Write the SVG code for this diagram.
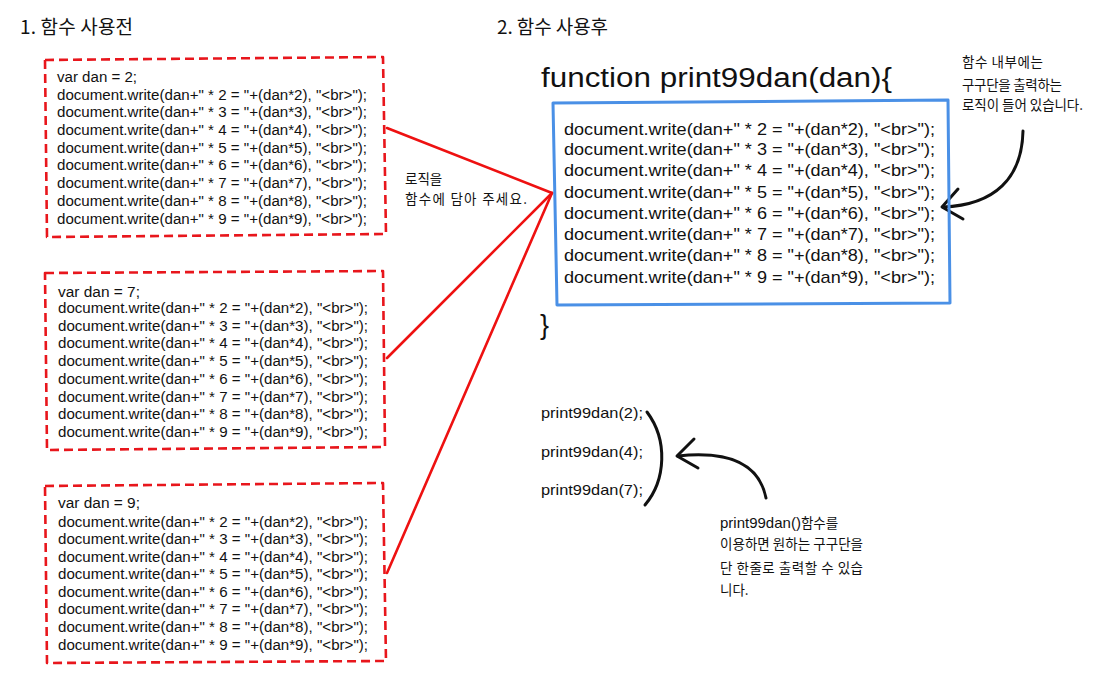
<svg xmlns="http://www.w3.org/2000/svg" width="1106" height="688" viewBox="0 0 1106 688">
<style>
.ko{font-family:"Noto Sans CJK KR","Noto Sans",sans-serif;fill:#111}
.title{font-size:19px}
.note{font-size:13.5px}
.lat{font-family:"Liberation Sans","DejaVu Sans",sans-serif}
.code{font-family:"Liberation Sans","DejaVu Sans",sans-serif;fill:#111;font-size:14px}
.bcode{font-family:"Liberation Sans","DejaVu Sans",sans-serif;fill:#111;font-size:17px}
.call{font-family:"Liberation Sans","DejaVu Sans",sans-serif;fill:#111;font-size:15px}
.fn{font-family:"Liberation Sans","DejaVu Sans",sans-serif;fill:#111;font-size:27px}
.dash{fill:none;stroke:#e8161c;stroke-width:2.6;stroke-dasharray:9 5;stroke-linejoin:round}
.blue{fill:none;stroke:#4a90e6;stroke-width:3;stroke-linejoin:round}
.red{fill:none;stroke:#ee1111;stroke-width:2.6;stroke-linecap:round}
.ink{fill:none;stroke:#111;stroke-width:3;stroke-linecap:round;stroke-linejoin:round}
</style>
<rect width="1106" height="688" fill="#fff"/>

<g id="title-before"><text class="ko title" x="20" y="34" textLength="113">1. 함수 사용전</text></g>
<g id="title-after"><text class="ko title" x="497" y="34" textLength="111">2. 함수 사용후</text></g>

<g id="box-dan2">
<path class="dash" d="M45,60 L383,57 L386,234 L47,237 Z"/>
<text class="code" x="57" y="81.5" textLength="80" lengthAdjust="spacingAndGlyphs">var dan = 2;</text>
<text class="code" x="57" y="99.5" textLength="310" lengthAdjust="spacingAndGlyphs">document.write(dan+" * 2 = "+(dan*2), "&lt;br&gt;");</text>
<text class="code" x="57" y="117" textLength="310" lengthAdjust="spacingAndGlyphs">document.write(dan+" * 3 = "+(dan*3), "&lt;br&gt;");</text>
<text class="code" x="57" y="134.8" textLength="310" lengthAdjust="spacingAndGlyphs">document.write(dan+" * 4 = "+(dan*4), "&lt;br&gt;");</text>
<text class="code" x="57" y="152.5" textLength="310" lengthAdjust="spacingAndGlyphs">document.write(dan+" * 5 = "+(dan*5), "&lt;br&gt;");</text>
<text class="code" x="57" y="170.3" textLength="310" lengthAdjust="spacingAndGlyphs">document.write(dan+" * 6 = "+(dan*6), "&lt;br&gt;");</text>
<text class="code" x="57" y="188" textLength="310" lengthAdjust="spacingAndGlyphs">document.write(dan+" * 7 = "+(dan*7), "&lt;br&gt;");</text>
<text class="code" x="57" y="205.8" textLength="310" lengthAdjust="spacingAndGlyphs">document.write(dan+" * 8 = "+(dan*8), "&lt;br&gt;");</text>
<text class="code" x="57" y="223.5" textLength="310" lengthAdjust="spacingAndGlyphs">document.write(dan+" * 9 = "+(dan*9), "&lt;br&gt;");</text>
</g>

<g id="box-dan7">
<path class="dash" d="M45,273 L383,271 L385,447 L47,450 Z"/>
<text class="code" x="58" y="296.5" textLength="82" lengthAdjust="spacingAndGlyphs">var dan = 7;</text>
<text class="code" x="58" y="312.5" textLength="310" lengthAdjust="spacingAndGlyphs">document.write(dan+" * 2 = "+(dan*2), "&lt;br&gt;");</text>
<text class="code" x="58" y="330.5" textLength="310" lengthAdjust="spacingAndGlyphs">document.write(dan+" * 3 = "+(dan*3), "&lt;br&gt;");</text>
<text class="code" x="58" y="348" textLength="310" lengthAdjust="spacingAndGlyphs">document.write(dan+" * 4 = "+(dan*4), "&lt;br&gt;");</text>
<text class="code" x="58" y="365.5" textLength="310" lengthAdjust="spacingAndGlyphs">document.write(dan+" * 5 = "+(dan*5), "&lt;br&gt;");</text>
<text class="code" x="58" y="383.5" textLength="310" lengthAdjust="spacingAndGlyphs">document.write(dan+" * 6 = "+(dan*6), "&lt;br&gt;");</text>
<text class="code" x="58" y="401.5" textLength="310" lengthAdjust="spacingAndGlyphs">document.write(dan+" * 7 = "+(dan*7), "&lt;br&gt;");</text>
<text class="code" x="58" y="419" textLength="310" lengthAdjust="spacingAndGlyphs">document.write(dan+" * 8 = "+(dan*8), "&lt;br&gt;");</text>
<text class="code" x="58" y="436.5" textLength="310" lengthAdjust="spacingAndGlyphs">document.write(dan+" * 9 = "+(dan*9), "&lt;br&gt;");</text>
</g>

<g id="box-dan9">
<path class="dash" d="M45,486 L383,483 L386,661 L47,663 Z"/>
<text class="code" x="58" y="507.5" textLength="82" lengthAdjust="spacingAndGlyphs">var dan = 9;</text>
<text class="code" x="58" y="526.5" textLength="310" lengthAdjust="spacingAndGlyphs">document.write(dan+" * 2 = "+(dan*2), "&lt;br&gt;");</text>
<text class="code" x="58" y="543.5" textLength="310" lengthAdjust="spacingAndGlyphs">document.write(dan+" * 3 = "+(dan*3), "&lt;br&gt;");</text>
<text class="code" x="58" y="561.5" textLength="310" lengthAdjust="spacingAndGlyphs">document.write(dan+" * 4 = "+(dan*4), "&lt;br&gt;");</text>
<text class="code" x="58" y="578.5" textLength="310" lengthAdjust="spacingAndGlyphs">document.write(dan+" * 5 = "+(dan*5), "&lt;br&gt;");</text>
<text class="code" x="58" y="596.5" textLength="310" lengthAdjust="spacingAndGlyphs">document.write(dan+" * 6 = "+(dan*6), "&lt;br&gt;");</text>
<text class="code" x="58" y="613.5" textLength="310" lengthAdjust="spacingAndGlyphs">document.write(dan+" * 7 = "+(dan*7), "&lt;br&gt;");</text>
<text class="code" x="58" y="631.5" textLength="310" lengthAdjust="spacingAndGlyphs">document.write(dan+" * 8 = "+(dan*8), "&lt;br&gt;");</text>
<text class="code" x="58" y="649.5" textLength="310" lengthAdjust="spacingAndGlyphs">document.write(dan+" * 9 = "+(dan*9), "&lt;br&gt;");</text>
</g>

<g id="connectors">
<polyline class="red" points="387,128 552,193"/>
<polyline class="red" points="387,358 552,193"/>
<polyline class="red" points="387,573 552,193"/>
<path class="ink" d="M1023,131 C1022,178 995,205 943,207"/>
<polyline class="ink" points="958,189 942,207 963,219"/>
<path class="ink" d="M647,412 C668,440 666,480 645,505"/>
<path class="ink" d="M766,498 C760,468 735,450 678,456"/>
<polyline class="ink" points="694,439 677,456 698,468"/>
</g>

<g id="note-logic">
<text class="ko note" x="405" y="184">로직을</text>
<text class="ko note" x="405" y="204" textLength="122">함수에 담아 주세요.</text>
</g>

<g id="function-box">
<text class="fn" x="541" y="87" textLength="351" lengthAdjust="spacingAndGlyphs">function print99dan(dan){</text>
<path class="blue" d="M553,103 L948,100 L950,303 L557,305 Z"/>
<text class="bcode" x="564" y="134.5" textLength="371" lengthAdjust="spacingAndGlyphs">document.write(dan+" * 2 = "+(dan*2), "&lt;br&gt;");</text>
<text class="bcode" x="564" y="155" textLength="371" lengthAdjust="spacingAndGlyphs">document.write(dan+" * 3 = "+(dan*3), "&lt;br&gt;");</text>
<text class="bcode" x="564" y="176" textLength="371" lengthAdjust="spacingAndGlyphs">document.write(dan+" * 4 = "+(dan*4), "&lt;br&gt;");</text>
<text class="bcode" x="564" y="197.5" textLength="371" lengthAdjust="spacingAndGlyphs">document.write(dan+" * 5 = "+(dan*5), "&lt;br&gt;");</text>
<text class="bcode" x="564" y="218.5" textLength="371" lengthAdjust="spacingAndGlyphs">document.write(dan+" * 6 = "+(dan*6), "&lt;br&gt;");</text>
<text class="bcode" x="564" y="239.5" textLength="371" lengthAdjust="spacingAndGlyphs">document.write(dan+" * 7 = "+(dan*7), "&lt;br&gt;");</text>
<text class="bcode" x="564" y="260.5" textLength="371" lengthAdjust="spacingAndGlyphs">document.write(dan+" * 8 = "+(dan*8), "&lt;br&gt;");</text>
<text class="bcode" x="564" y="282.5" textLength="371" lengthAdjust="spacingAndGlyphs">document.write(dan+" * 9 = "+(dan*9), "&lt;br&gt;");</text>
<text class="fn" x="540" y="334">}</text>
</g>

<g id="note-inside">
<text class="ko note" x="962" y="67" textLength="81">함수 내부에는</text>
<text class="ko note" x="962" y="90" textLength="100">구구단을 출력하는</text>
<text class="ko note" x="962" y="110" textLength="121">로직이 들어 있습니다.</text>
</g>

<g id="calls">
<text class="call" x="541" y="418" textLength="102" lengthAdjust="spacingAndGlyphs">print99dan(2);</text>
<text class="call" x="541" y="457" textLength="102" lengthAdjust="spacingAndGlyphs">print99dan(4);</text>
<text class="call" x="541" y="495" textLength="102" lengthAdjust="spacingAndGlyphs">print99dan(7);</text>
</g>

<g id="note-calls">
<text class="ko note" x="720" y="528"><tspan class="lat" font-size="15">print99dan()</tspan>함수를</text>
<text class="ko note" x="720" y="549" textLength="143">이용하면 원하는 구구단을</text>
<text class="ko note" x="720" y="573" textLength="143">단 한줄로 출력할 수 있습</text>
<text class="ko note" x="720" y="595">니다.</text>
</g>
</svg>
